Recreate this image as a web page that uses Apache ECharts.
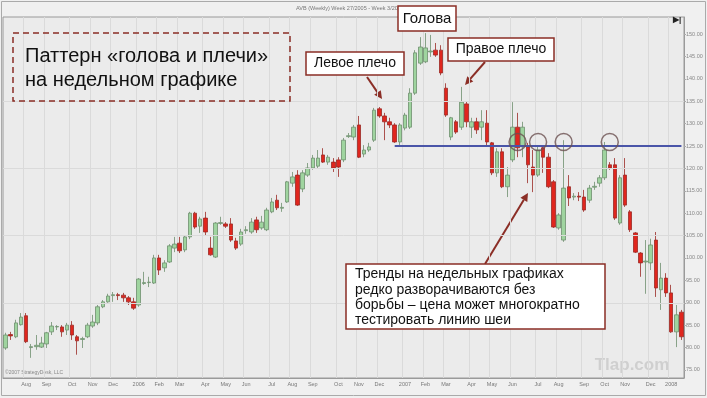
<!DOCTYPE html>
<html>
<head>
<meta charset="utf-8">
<script src="https://cdn.jsdelivr.net/npm/echarts@6/dist/echarts.min.js"></script>
<style>
  html, body { margin: 0; padding: 0; background: #f0f0f0; }
  #chart { width: 707px; height: 398px; }
</style>
</head>
<body>
<div id="chart"></div>
<script>
// weekly bars, AVB, week 27/2005 .. week 3/2008 (friday dates)
const startDate = Date.UTC(2005, 6, 8);
const weekCount = 133;

const openPrices = [
  79.9, 82.9, 82.4, 85.1, 87.1, 80.0, 80.2, 80.1, 80.8, 83.5,
  84.6, 84.6, 83.9, 85.0, 82.4, 81.8, 82.4, 84.8, 85.5, 89.1,
  90.2, 91.6, 91.8, 91.7, 91.1, 90.2, 89.5, 94.3, 94.5, 94.4,
  100.0, 97.8, 99.1, 102.2, 103.3, 101.8, 104.7, 110.0, 107.1, 108.9,
  102.2, 100.2, 107.7, 107.6, 107.6, 103.8, 103.1, 106.1, 105.8, 108.5,
  106.7, 106.3, 110.3, 112.9, 111.1, 112.5, 116.7, 118.5, 115.4, 118.5,
  120.1, 120.5, 123.0, 121.4, 121.4, 121.9, 121.9, 127.1, 127.0, 129.7,
  123.2, 124.1, 126.3, 133.3, 131.7, 130.4, 129.7, 125.9, 129.0, 129.2,
  136.8, 143.5, 143.8, 146.0, 146.4, 146.4, 137.9, 127.0, 130.4, 129.2,
  134.4, 129.2, 130.4, 129.2, 130.1, 125.7, 119.0, 123.7, 115.9, 121.9,
  129.2, 124.8, 124.8, 120.3, 118.5, 124.6, 122.5, 117.0, 106.7, 104.0,
  115.9, 113.6, 113.8, 113.6, 112.9, 115.8, 116.7, 117.9, 120.8, 120.8,
  107.8, 118.5, 110.3, 105.6, 101.1, 99.1, 98.9, 104.0, 92.9, 95.5,
  92.2, 83.5, 87.9
];
const closePrices = [
  82.8, 82.6, 85.5, 86.8, 81.3, 80.2, 80.5, 81.0, 83.3, 84.8,
  84.7, 83.5, 85.0, 82.8, 81.5, 82.0, 85.0, 85.7, 89.1, 90.2,
  91.5, 91.8, 91.6, 91.1, 90.2, 88.8, 95.3, 94.5, 94.6, 100.0,
  97.3, 98.9, 102.7, 103.1, 101.6, 104.7, 110.0, 106.9, 108.7, 105.8,
  100.7, 107.8, 107.9, 107.1, 104.0, 102.2, 105.8, 106.3, 108.0, 106.3,
  108.0, 110.7, 112.5, 111.2, 111.3, 117.0, 118.1, 111.8, 119.0, 120.1,
  122.3, 122.3, 121.4, 122.5, 120.1, 120.3, 126.3, 127.3, 129.2, 122.5,
  124.1, 124.8, 133.0, 131.7, 130.4, 129.7, 125.9, 129.7, 131.9, 136.8,
  145.8, 147.1, 146.9, 146.2, 145.3, 141.3, 131.9, 131.3, 128.1, 134.8,
  130.4, 130.4, 128.6, 130.4, 125.9, 119.0, 123.7, 115.9, 118.5, 129.2,
  124.6, 129.2, 120.8, 118.5, 124.1, 122.5, 115.9, 106.9, 109.6, 115.6,
  113.4, 113.8, 113.6, 110.7, 115.6, 116.0, 117.9, 124.1, 120.1, 108.9,
  117.9, 111.8, 106.3, 101.3, 98.9, 99.3, 102.9, 93.3, 95.5, 92.2,
  83.5, 87.3, 82.4
];
const lowPrices = [
  79.5, 81.7, 82.1, 84.9, 81.0, 77.7, 79.5, 79.9, 79.9, 82.8,
  83.9, 82.4, 82.8, 81.7, 78.4, 79.9, 82.1, 84.4, 85.0, 88.8,
  90.0, 90.2, 90.6, 90.2, 89.5, 88.4, 89.1, 94.0, 93.5, 94.2,
  96.2, 96.9, 98.9, 101.3, 101.1, 101.3, 104.2, 106.5, 105.6, 105.1,
  100.5, 100.0, 107.4, 106.7, 103.6, 101.8, 102.7, 105.4, 105.4, 105.6,
  106.3, 106.0, 110.0, 110.7, 110.3, 112.3, 115.9, 111.6, 114.7, 118.1,
  119.7, 120.1, 121.2, 120.8, 119.2, 118.1, 121.4, 126.8, 126.3, 122.3,
  122.5, 123.7, 125.9, 131.3, 126.3, 129.0, 125.7, 125.2, 128.5, 128.8,
  136.4, 143.1, 143.5, 144.9, 144.9, 140.8, 131.5, 126.3, 127.7, 128.6,
  129.2, 126.8, 127.7, 126.3, 125.2, 118.5, 118.1, 115.6, 113.6, 121.4,
  122.5, 122.5, 116.7, 114.7, 118.1, 119.0, 115.6, 106.7, 106.3, 103.6,
  111.6, 112.9, 112.7, 110.3, 112.3, 115.2, 115.9, 117.4, 119.7, 108.5,
  107.4, 111.4, 105.8, 101.1, 95.8, 92.0, 97.3, 91.3, 88.4, 91.3,
  83.3, 80.1, 81.7
];
const highPrices = [
  83.3, 83.5, 86.2, 87.7, 87.7, 80.8, 82.8, 82.4, 83.5, 85.7,
  85.0, 85.0, 85.5, 85.9, 82.8, 82.4, 85.5, 87.3, 89.5, 90.6,
  92.0, 92.4, 92.2, 92.2, 91.5, 91.1, 95.5, 96.9, 95.8, 100.7,
  100.7, 99.5, 103.1, 104.7, 104.7, 105.1, 110.3, 110.3, 109.2, 110.3,
  104.7, 108.0, 109.2, 108.0, 108.9, 104.5, 106.5, 107.1, 108.9, 109.2,
  109.4, 111.2, 113.4, 114.1, 112.3, 117.2, 119.2, 119.6, 119.6, 121.2,
  123.0, 124.1, 124.5, 123.0, 122.3, 122.5, 126.8, 127.9, 129.7, 131.7,
  125.2, 125.7, 133.5, 133.7, 132.4, 131.3, 130.1, 130.1, 132.4, 137.9,
  146.4, 149.3, 150.2, 149.8, 148.0, 147.5, 139.0, 131.5, 130.8, 138.2,
  135.0, 131.3, 131.3, 133.0, 133.0, 125.9, 124.5, 124.5, 120.3, 134.8,
  132.4, 130.4, 125.7, 124.1, 124.8, 125.2, 123.4, 117.4, 110.0, 126.3,
  118.5, 114.5, 114.7, 115.2, 116.3, 117.0, 118.5, 125.9, 121.4, 122.3,
  118.5, 122.3, 110.7, 105.8, 101.3, 104.0, 104.3, 105.8, 98.9, 96.6,
  94.0, 89.5, 88.4
];

const yTicks = [75, 80, 85, 90, 95, 100, 105, 110, 115, 120, 125, 130, 135, 140, 145, 150];
const gridLevels = [90, 105, 120, 135];
const necklineLevel = 125.1;
const necklineFrom = 76;
const touchWeeks = [100, 104, 109, 118];
const touchLevel = 125.9;
const lastPrice = 82.4;
const monthNames = ['Jan', 'Feb', 'Mar', 'Apr', 'May', 'Jun', 'Jul', 'Aug', 'Sep', 'Oct', 'Nov', 'Dec'];

const categories = [];
for (let i = 0; i < weekCount; i++) {
  categories.push(new Date(startDate + i * 7 * 86400000).toISOString().slice(0, 10));
}
const isMonthStart = (i) => +categories[i].slice(8, 10) <= 7;
const monthLabel = (v) => {
  const m = +v.slice(5, 7);
  return m === 1 ? v.slice(0, 4) : monthNames[m - 1];
};

const candles = openPrices.map((o, i) => [o, closePrices[i], lowPrices[i], highPrices[i]]);

const red = '#8b2e26';
const font = '"Liberation Sans", Arial, sans-serif';

function arrow(x1, y1, x2, y2) {
  const a = Math.atan2(y2 - y1, x2 - x1), L = 8, W = 4;
  const bx = x2 - L * Math.cos(a), by = y2 - L * Math.sin(a);
  return [
    { type: 'line', shape: { x1: x1, y1: y1, x2: bx, y2: by }, style: { stroke: red, lineWidth: 2 } },
    { type: 'polygon', shape: { points: [[x2, y2], [bx + W * Math.sin(a), by - W * Math.cos(a)], [bx - W * Math.sin(a), by + W * Math.cos(a)]] }, style: { fill: red } }
  ];
}
function label(x, y, w, h, text, size) {
  return [
    { type: 'rect', shape: { x: x, y: y, width: w, height: h }, style: { fill: '#fff', stroke: red, lineWidth: 1.5 }, z: 10 },
    { type: 'text', x: x + w / 2, y: y + h / 2, style: { text: text, font: size + 'px ' + font, fill: '#111', textAlign: 'center', textVerticalAlign: 'middle' }, z: 11 }
  ];
}
function textLine(x, y, text, size) {
  return { type: 'text', x: x, y: y, style: { text: text, font: size + 'px ' + font, fill: '#111', textVerticalAlign: 'middle' }, z: 11 };
}

const option = {
  backgroundColor: '#f0f0f0',
  animation: false,
  grid: {
    left: 3, right: 23, top: 17, bottom: 20,
    show: true, backgroundColor: '#ebebeb', borderColor: '#9a9a9a', borderWidth: 1
  },
  xAxis: {
    type: 'category',
    data: categories,
    boundaryGap: true,
    axisLine: { lineStyle: { color: '#9a9a9a' } },
    axisTick: { interval: isMonthStart, alignWithLabel: true, length: 3, lineStyle: { color: '#999' } },
    axisLabel: { interval: isMonthStart, formatter: monthLabel, fontSize: 5.5, color: '#777', margin: 3, fontFamily: font },
    splitLine: { show: true, interval: isMonthStart, lineStyle: { color: '#dadada' } }
  },
  yAxis: {
    type: 'value',
    position: 'right',
    min: 73.2,
    max: 153.8,
    axisLine: { show: true, lineStyle: { color: '#9a9a9a' } },
    axisTick: { show: true, customValues: yTicks, length: 2, lineStyle: { color: '#aaa' } },
    axisLabel: { customValues: yTicks, formatter: (v) => v.toFixed(2), fontSize: 5.5, color: '#888', margin: 2, fontFamily: font },
    splitLine: { show: false }
  },
  series: [
    {
      type: 'scatter',
      data: [],
      z: 1,
      markLine: {
        silent: true,
        symbol: ['none', 'none'],
        label: { show: false },
        lineStyle: { color: '#dadada', type: 'solid', width: 1 },
        data: gridLevels.map((v) => ({ yAxis: v }))
      }
    },
    {
      type: 'candlestick',
      data: candles,
      barWidth: 4,
      z: 3,
      itemStyle: {
        color: '#9fd49f', color0: '#e0261e',
        borderColor: '#6f8f6f', borderColor0: '#9a2a24', borderWidth: 0.8
      },
      markLine: {
        silent: true,
        symbol: ['none', 'none'],
        data: [
          [
            { coord: [categories[necklineFrom], necklineLevel], lineStyle: { color: '#4a55a8', width: 2, type: 'solid' }, label: { show: false } },
            { coord: [categories[weekCount - 1], necklineLevel] }
          ],
          {
            yAxis: lastPrice,
            lineStyle: { opacity: 0 },
            label: { show: true, position: 'end', formatter: lastPrice.toFixed(2), backgroundColor: '#555', color: '#fff', fontSize: 5.5, padding: [1, 2], distance: 2 }
          }
        ]
      }
    },
    {
      type: 'scatter',
      data: touchWeeks.map((i) => [categories[i], touchLevel]),
      symbol: 'circle',
      symbolSize: 17,
      z: 5,
      itemStyle: { color: 'rgba(0,0,0,0)', borderColor: '#6b5050', borderWidth: 1.5 }
    }
  ],
  graphic: [
    { type: 'rect', shape: { x: 1.5, y: 1.5, width: 704, height: 394 }, style: { fill: 'none', stroke: '#aaa', lineWidth: 1 } },
    { type: 'text', x: 350, y: 8, style: { text: 'AVB (Weekly) Week 27/2005 - Week 3/2008', font: '5.5px ' + font, fill: '#777', textAlign: 'center', textVerticalAlign: 'middle' } },
    { type: 'text', x: 677, y: 20, style: { text: '▶|', font: 'bold 8px ' + font, fill: '#222', textAlign: 'center', textVerticalAlign: 'middle' } },
    { type: 'text', x: 5, y: 373, style: { text: '©2007 StrategyDesk, LLC', font: '5px ' + font, fill: '#888', textVerticalAlign: 'middle' } },
    { type: 'text', x: 632, y: 365, style: { text: 'Tlap.com', font: 'bold 17px ' + font, fill: '#cfcfcf', textAlign: 'center', textVerticalAlign: 'middle' } },
    { type: 'rect', shape: { x: 13, y: 33, width: 277, height: 68 }, style: { fill: 'none', stroke: red, lineWidth: 1.5, lineDash: [6, 4] }, z: 10 },
    textLine(25, 56, 'Паттерн «голова и плечи»', 20),
    textLine(25, 80, 'на недельном графике', 20),
    ...label(398, 6, 58, 25, 'Голова', 15),
    ...label(306, 52, 98, 23, 'Левое плечо', 14),
    ...label(448, 38, 106, 23, 'Правое плечо', 14),
    ...arrow(367, 77, 382, 99),
    ...arrow(485, 62, 465, 85),
    { type: 'rect', shape: { x: 346, y: 264, width: 259, height: 65 }, style: { fill: '#fff', stroke: red, lineWidth: 1.5 }, z: 10 },
    textLine(355, 274, 'Тренды на недельных графиках', 14),
    textLine(355, 290, 'редко разворачиваются без', 14),
    textLine(355, 305, 'борьбы – цена может многократно', 14),
    textLine(355, 320, 'тестировать линию шеи', 14),
    ...arrow(485, 264, 528, 193)
  ]
};

const chart = echarts.init(document.getElementById('chart'));
chart.setOption(option);
</script>
</body>
</html>
